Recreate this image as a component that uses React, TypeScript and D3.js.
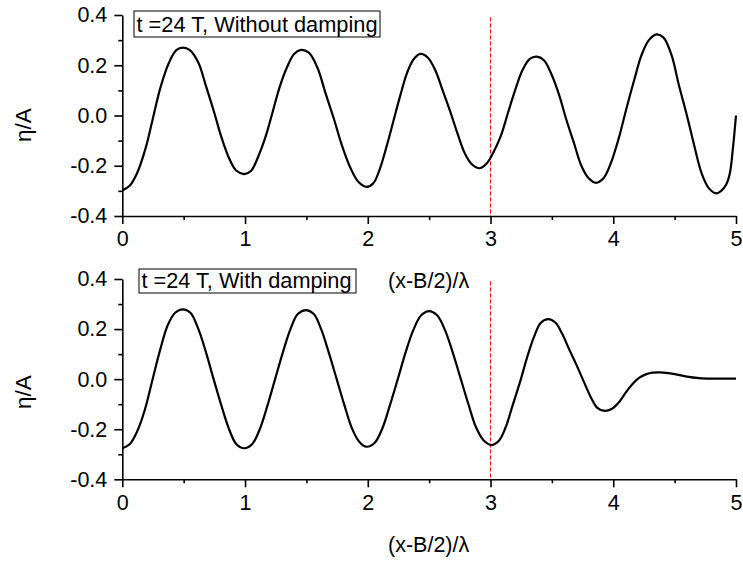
import React, { useEffect, useRef } from "react";
import * as d3 from "d3";

// ---- data ----
const xTicks = [0, 1, 2, 3, 4, 5];
const xMinorTicks = [0.5, 1.5, 2.5, 3.5, 4.5];
const yTicks = [-0.4, -0.2, 0.0, 0.2, 0.4];
const yMinorTicks = [-0.3, -0.1, 0.1, 0.3];
const xDomain = [0, 5];
const yDomain = [-0.4, 0.4];
const markerX = 3;
const markerTop = 0.39;

const topLabel = "t =24 T, Without damping";
const bottomLabel = "t =24 T, With damping";
const xAxisLabel = "(x-B/2)/λ";
const yAxisLabel = "η/A";

const topX = [
  0, 0.06, 0.12, 0.19, 0.25, 0.31, 0.38, 0.44, 0.494,
  0.55, 0.62, 0.68, 0.744, 0.81, 0.87, 0.93, 0.994,
  1.05, 1.11, 1.17, 1.225, 1.28, 1.34, 1.4, 1.456,
  1.52, 1.59, 1.655, 1.723, 1.79, 1.86, 1.925, 1.99,
  2.045, 2.1, 2.155, 2.21, 2.265, 2.32, 2.375, 2.43,
  2.49, 2.55, 2.61, 2.67, 2.73, 2.79, 2.85, 2.91,
  2.97, 3.03, 3.085, 3.143, 3.2, 3.26, 3.32, 3.376,
  3.435, 3.5, 3.56, 3.618, 3.68, 3.74, 3.8, 3.86,
  3.92, 3.98, 4.045, 4.107, 4.17, 4.23, 4.29, 4.353,
  4.41, 4.475, 4.535, 4.597, 4.66, 4.72, 4.78, 4.84,
  4.88, 4.92, 4.95, 4.975, 5.0,
];
const topY = [
  -0.298, -0.28, -0.23, -0.13, -0.01, 0.11, 0.21, 0.26, 0.27,
  0.26, 0.21, 0.12, 0.02, -0.09, -0.17, -0.22, -0.233,
  -0.22, -0.16, -0.08, 0.014, 0.11, 0.19, 0.245, 0.261,
  0.25, 0.19, 0.09, -0.012, -0.12, -0.21, -0.265, -0.284,
  -0.27, -0.21, -0.12, -0.02, 0.08, 0.17, 0.225, 0.245,
  0.23, 0.18, 0.1, 0.018, -0.07, -0.15, -0.195, -0.21,
  -0.19, -0.14, -0.08, 0.012, 0.1, 0.18, 0.225, 0.234,
  0.22, 0.16, 0.08, -0.017, -0.11, -0.2, -0.25, -0.268,
  -0.25, -0.19, -0.09, 0.027, 0.14, 0.24, 0.3, 0.323,
  0.31, 0.24, 0.12, 0.006, -0.12, -0.23, -0.29, -0.31,
  -0.3, -0.275, -0.23, -0.13, 0.0,
];

const bottomX = [
  0, 0.06, 0.12, 0.185, 0.247, 0.31, 0.37, 0.43, 0.494,
  0.555, 0.62, 0.68, 0.744, 0.81, 0.87, 0.93, 0.994,
  1.057, 1.12, 1.18, 1.245, 1.31, 1.37, 1.43, 1.497,
  1.56, 1.62, 1.68, 1.745, 1.81, 1.87, 1.93, 1.99,
  2.055, 2.12, 2.18, 2.245, 2.31, 2.37, 2.435, 2.5,
  2.565, 2.63, 2.69, 2.755, 2.82, 2.88, 2.945, 3.01,
  3.07, 3.125, 3.18, 3.24, 3.3, 3.355, 3.41, 3.47,
  3.53, 3.585, 3.64, 3.7, 3.76, 3.815, 3.87, 3.93,
  3.99, 4.05, 4.1, 4.155, 4.21, 4.27, 4.32, 4.38,
  4.5, 4.6, 4.7, 4.8, 5.0,
];
const bottomY = [
  -0.276, -0.26, -0.21, -0.12, 0.0, 0.12, 0.215, 0.265, 0.279,
  0.265, 0.2, 0.11, 0.0, -0.11, -0.2, -0.26, -0.276,
  -0.26, -0.2, -0.11, 0.0, 0.11, 0.2, 0.26, 0.276,
  0.26, 0.2, 0.11, 0.003, -0.105, -0.195, -0.25, -0.27,
  -0.255, -0.195, -0.105, 0.001, 0.11, 0.195, 0.255, 0.272,
  0.255, 0.195, 0.11, 0.005, -0.1, -0.19, -0.245, -0.263,
  -0.245, -0.19, -0.105, -0.012, 0.09, 0.17, 0.225, 0.24,
  0.225, 0.18, 0.12, 0.057, -0.01, -0.07, -0.115, -0.127,
  -0.118, -0.09, -0.055, -0.02, 0.005, 0.02, 0.026, 0.027,
  0.02, 0.01, 0.004, 0.002, 0.002,
];

const W = 743;
const H = 563;
const FONT = "'Liberation Sans', Arial, Helvetica, sans-serif";
const FS = 21.5;

type Panel = {
  xs: number[];
  ys: number[];
  top: number;
  bottom: number;
  label: string;
  labelWidth: number;
  box: { x: number; y: number; w: number; h: number };
  yLabelY: number;
  xLabelBaseline: number;
};

const left = 122.3;
const right = 736;

const panels: Panel[] = [
  {
    xs: topX,
    ys: topY,
    top: 15,
    bottom: 216,
    label: topLabel,
    labelWidth: 241,
    box: { x: 134, y: 11, w: 246, h: 26 },
    yLabelY: 125,
    xLabelBaseline: 288,
  },
  {
    xs: bottomX,
    ys: bottomY,
    top: 279,
    bottom: 479.3,
    label: bottomLabel,
    labelWidth: 210,
    box: { x: 139, y: 269, w: 217, h: 24 },
    yLabelY: 392,
    xLabelBaseline: 552,
  },
];

export default function App() {
  const ref = useRef<SVGSVGElement | null>(null);

  useEffect(() => {
    const svg = d3.select(ref.current);
    svg.selectAll("*").remove();
    const x = d3.scaleLinear().domain(xDomain).range([left, right]);
    const fmt = (d: any) => (+d).toFixed(1);

    panels.forEach((p) => {
      const y = d3.scaleLinear().domain(yDomain).range([p.bottom, p.top]);
      const g = svg.append("g");

      g.append("g")
        .attr("transform", `translate(0,${p.bottom})`)
        .call(
          d3
            .axisBottom(x)
            .tickValues(xTicks)
            .tickSize(8)
            .tickSizeOuter(0)
            .tickPadding(7)
            .tickFormat((d: any) => String(d))
        );
      g.append("g")
        .attr("transform", `translate(0,${p.bottom})`)
        .call(d3.axisBottom(x).tickValues(xMinorTicks).tickSize(4).tickSizeOuter(0).tickFormat(() => ""))
        .select(".domain")
        .remove();

      g.append("g")
        .attr("transform", `translate(${left},0)`)
        .call(
          d3
            .axisLeft(y)
            .tickValues(yTicks)
            .tickSize(8)
            .tickSizeOuter(0)
            .tickPadding(7)
            .tickFormat(fmt)
        );
      g.append("g")
        .attr("transform", `translate(${left},0)`)
        .call(d3.axisLeft(y).tickValues(yMinorTicks).tickSize(4).tickSizeOuter(0).tickFormat(() => ""))
        .select(".domain")
        .remove();

      g.selectAll(".domain, .tick line")
        .attr("stroke", "#000")
        .attr("stroke-width", 1.6);
      g.selectAll(".tick text")
        .attr("fill", "#000")
        .style("font-family", FONT)
        .style("font-size", `${FS}px`);

      g.append("line")
        .attr("x1", x(markerX))
        .attr("x2", x(markerX))
        .attr("y1", y(markerTop))
        .attr("y2", y(yDomain[0]))
        .attr("stroke", "#ff0000")
        .attr("stroke-width", 1)
        .attr("stroke-dasharray", "4,2");

      const pts = p.xs.map((xv, i) => [xv, p.ys[i]] as [number, number]);
      const line = d3
        .line<[number, number]>()
        .x((d) => x(d[0]))
        .y((d) => y(d[1]))
        .curve(d3.curveCatmullRom.alpha(0.5));
      g.append("path")
        .attr("d", line(pts) || "")
        .attr("fill", "none")
        .attr("stroke", "#000")
        .attr("stroke-width", 2.2)
        .attr("stroke-linejoin", "round");

      g.append("rect")
        .attr("x", p.box.x)
        .attr("y", p.box.y)
        .attr("width", p.box.w)
        .attr("height", p.box.h)
        .attr("fill", "#fff")
        .attr("stroke", "#000")
        .attr("stroke-width", 1);
      g.append("text")
        .attr("x", p.box.x + 2.5)
        .attr("y", p.box.y + p.box.h - 5)
        .attr("textLength", p.labelWidth)
        .attr("lengthAdjust", "spacingAndGlyphs")
        .style("font-family", FONT)
        .style("font-size", `${FS}px`)
        .text(p.label);

      g.append("text")
        .attr("transform", `translate(31,${p.yLabelY}) rotate(-90)`)
        .attr("text-anchor", "middle")
        .style("font-family", FONT)
        .style("font-size", `${FS + 1}px`)
        .text(yAxisLabel);

      g.append("text")
        .attr("x", 388)
        .attr("y", p.xLabelBaseline)
        .style("font-family", FONT)
        .style("font-size", `${FS}px`)
        .text(xAxisLabel);
    });
  }, []);

  return (
    <svg
      ref={ref}
      width={W}
      height={H}
      style={{ position: "absolute", left: 0, top: 0, background: "#fff" }}
    />
  );
}
